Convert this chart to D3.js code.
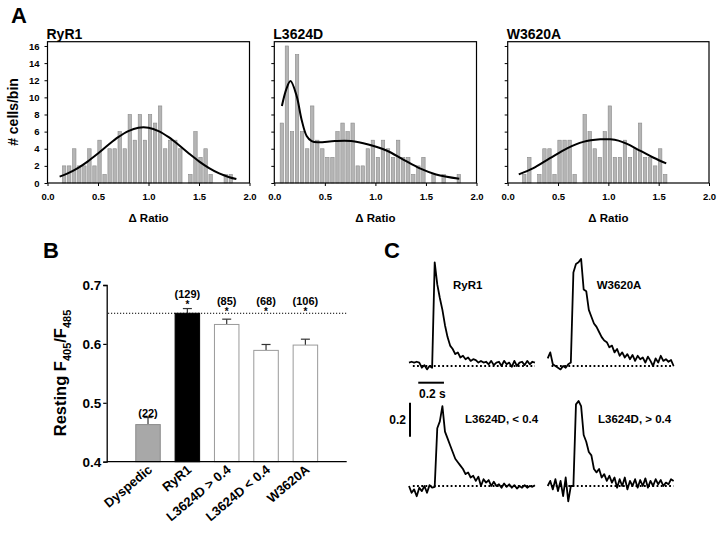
<!DOCTYPE html>
<html><head><meta charset="utf-8">
<script src="https://cdn.jsdelivr.net/npm/d3@7"></script>
<style>
body{margin:0;background:#fff}
text{font-family:"Liberation Sans",Arial,sans-serif;font-weight:bold;fill:#000}
</style>
</head><body>
<svg id="c" width="720" height="534"></svg>
<script>
// ---------------- DATA ----------------
const histTitles = ["RyR1", "L3624D", "W3620A"];
const histXTicks = [0.0, 0.5, 1.0, 1.5, 2.0];
const histYTicks = [0, 2, 4, 6, 8, 10, 12, 14, 16];

const ryr1Centers = [0.165,0.215,0.265,0.315,0.365,0.415,0.465,0.515,0.565,0.615,0.665,0.715,0.765,0.815,0.865,0.915,0.965,1.015,1.065,1.115,1.165,1.215,1.265,1.315,1.365,1.415,1.465,1.515,1.565,1.615,1.665,1.715,1.765,1.815];
const ryr1Counts = [2,2,4,2,2,4,2,5,1,4,4,6,4,8,5,8,5,8,7,9,4,5,5,4,0,1,6,3,4,1,0,0,1,1];
const ryr1FitX = [0.12,0.2,0.3,0.4,0.5,0.6,0.7,0.8,0.9,1.0,1.1,1.2,1.3,1.4,1.5,1.6,1.7,1.8,1.87];
const ryr1FitY = [0.75,1.12,1.74,2.53,3.45,4.43,5.35,6.06,6.45,6.45,6.06,5.35,4.43,3.45,2.53,1.74,1.12,0.68,0.46];

const l3624dCenters = [0.075,0.125,0.175,0.225,0.275,0.325,0.375,0.425,0.475,0.525,0.575,0.625,0.675,0.725,0.775,0.825,0.875,0.925,0.975,1.025,1.075,1.125,1.175,1.225,1.275,1.325,1.375,1.425,1.475,1.525,1.575,1.625,1.675,1.725,1.775,1.825];
const l3624dCounts = [7,16,6,15,6,4,9,5,4,3,3,6,7,6,7,2,2,4,5,3,5,4,3,5,3,3,1,2,3,0,1,0,1,0,0,1];
const l3624dFitX = [0.075,0.12,0.16,0.22,0.27,0.32,0.37,0.43,0.6,0.76,0.93,1.11,1.28,1.44,1.6,1.83];
const l3624dFitY = [9.0,11.0,11.9,10.2,7.4,5.5,4.9,4.75,4.9,4.9,4.5,3.8,2.7,1.7,1.0,0.5];

const w3620aCenters = [0.165,0.215,0.265,0.315,0.365,0.415,0.465,0.515,0.565,0.615,0.665,0.715,0.765,0.815,0.865,0.915,0.965,1.015,1.065,1.115,1.165,1.215,1.265,1.315,1.365,1.415,1.465,1.515,1.565];
const w3620aCounts = [1,3,0,1,4,4,1,5,5,5,1,0,8,6,4,3,6,9,3,3,5,3,4,7,3,3,2,4,1];
const w3620aFitX = [0.11,0.25,0.42,0.59,0.75,0.92,1.02,1.1,1.18,1.32,1.45,1.575];
const w3620aFitY = [1.0,1.7,2.9,4.05,4.8,5.1,5.1,4.95,4.6,3.75,2.95,2.3];

// Panel B
const bCategories = ["Dyspedic", "RyR1", "L3624D > 0.4", "L3624D < 0.4", "W3620A"];
const bMeans = [0.463, 0.652, 0.633, 0.589, 0.598];
const bSem = [0.012, 0.008, 0.009, 0.010, 0.010];
const bN = [22, 129, 85, 68, 106];
const bSignificant = [false, true, true, true, true];
const bYTicks = [0.4, 0.5, 0.6, 0.7];

// Panel C (ΔRatio traces, sampled every 0.02 s)
const traceTimes = [0,0.02,0.04,0.06,0.08,0.1,0.12,0.14,0.16,0.18,0.2,0.22,0.24,0.26,0.28,0.3,0.32,0.34,0.36,0.38,0.4,0.42,0.44,0.46,0.48,0.5,0.52,0.54,0.56,0.58,0.6,0.62,0.64,0.66,0.68,0.7,0.72,0.74,0.76,0.78,0.8,0.82,0.84,0.86,0.88,0.9,0.92,0.94,0.96,0.98];
const traceNames = ["RyR1", "W3620A", "L3624D, < 0.4", "L3624D, > 0.4"];
const traceRyR1 = [0.02,0.025,0.02,0.025,0.02,-0.01,0.005,-0.02,0.0,-0.01,0.61,0.48,0.40,0.33,0.24,0.17,0.12,0.10,0.07,0.08,0.05,0.06,0.04,0.05,0.03,0.04,0.035,0.02,0.03,0.02,0.025,0.01,0.03,0.005,0.02,0.025,0.0,0.03,0.01,0.02,-0.005,0.03,0.0,0.02,0.025,0.005,0.03,0.01,0.025,0.02];
const traceW3620A = [0.045,0.08,0.01,0.0,-0.01,-0.02,0.0,-0.01,0.01,0.02,0.55,0.60,0.61,0.63,0.45,0.44,0.33,0.29,0.25,0.23,0.20,0.17,0.15,0.14,0.11,0.12,0.08,0.10,0.06,0.08,0.05,0.07,0.04,0.065,0.03,0.06,0.04,0.05,0.02,0.055,0.03,0.0,0.045,0.02,0.06,0.03,0.04,0.025,0.035,0.0];
const traceL3624Dlow = [0.0,-0.04,-0.02,-0.06,-0.01,-0.03,0.0,-0.04,0.005,-0.01,-0.005,0.34,0.38,0.47,0.32,0.28,0.24,0.20,0.16,0.14,0.12,0.10,0.07,0.08,0.05,0.06,0.03,0.055,0.0,0.04,0.02,0.035,0.0,0.025,0.0,0.01,-0.01,0.015,-0.005,0.01,-0.01,0.005,-0.015,0.0,-0.01,0.005,-0.01,0.0,-0.005,0.005];
const traceL3624Dhigh = [0.0,0.03,-0.02,0.04,-0.03,0.03,-0.06,0.05,-0.09,0.0,0.0,0.48,0.50,0.47,0.30,0.26,0.20,0.18,0.10,0.08,0.10,0.05,0.07,0.03,0.06,0.02,0.05,-0.01,0.04,0.0,0.05,-0.02,0.03,0.0,0.04,-0.01,0.035,0.0,0.045,-0.01,0.03,0.0,0.04,0.01,0.035,0.0,0.02,0.01,0.04,0.03];
const scaleBarTime = 0.2;   // s
const scaleBarRatio = 0.2;  // ΔRatio

// ---------------- DRAW ----------------
const svg = d3.select("#c");

function panelLetter(t, x, y) {
  svg.append("text").attr("x", x).attr("y", y).style("font-size", "22px").text(t);
}
panelLetter("A", 11, 23);
panelLetter("B", 43, 258);
panelLetter("C", 384, 258);

// ---- Panel A ----
const histPanels = [
  {title: histTitles[0], centers: ryr1Centers, counts: ryr1Counts, fx: ryr1FitX, fy: ryr1FitY, x0: 47.5, x1: 249.5, labels: true},
  {title: histTitles[1], centers: l3624dCenters, counts: l3624dCounts, fx: l3624dFitX, fy: l3624dFitY, x0: 274.3, x1: 476.5, labels: false},
  {title: histTitles[2], centers: w3620aCenters, counts: w3620aCounts, fx: w3620aFitX, fy: w3620aFitY, x0: 507.7, x1: 709, labels: false}
];
const hTop = 41.7, hBottom = 183;
histPanels.forEach(p => {
  const x = d3.scaleLinear().domain([0, 2]).range([p.x0, p.x1]);
  const y = d3.scaleLinear().domain([0, 16.5]).range([hBottom, hTop]);
  const g = svg.append("g");
  const bins = p.counts.map((c, i) => ({c, x: p.centers[i]})).filter(d => d.c > 0);
  const bw = x(0.034) - x(0);
  g.selectAll("rect.bar").data(bins).enter().append("rect")
    .attr("x", d => x(d.x) - bw / 2).attr("width", bw)
    .attr("y", d => y(d.c)).attr("height", d => y(0) - y(d.c))
    .attr("fill", "#b5b5b5").attr("stroke", "#8a8a8a").attr("stroke-width", 0.6);
  const line = d3.line().x((d, i) => x(p.fx[i])).y(d => y(d)).curve(d3.curveCatmullRom);
  g.append("path").attr("d", line(p.fy)).attr("fill", "none").attr("stroke", "#000").attr("stroke-width", 2);
  g.append("rect").attr("x", p.x0).attr("y", hTop).attr("width", p.x1 - p.x0).attr("height", hBottom - hTop)
    .attr("fill", "none").attr("stroke", "#000").attr("stroke-width", 1.2);
  const ya = g.append("g").attr("transform", `translate(${p.x0},0)`)
    .call(d3.axisLeft(y).tickValues(histYTicks).tickSize(3).tickPadding(5)
      .tickFormat(p.labels ? d3.format("d") : () => ""));
  ya.select(".domain").remove();
  ya.selectAll("text").style("font-size", "9.5px").style("font-family", '"Liberation Sans",Arial,sans-serif');
  ya.selectAll("line").attr("stroke-width", 1);
  const xa = g.append("g").attr("transform", `translate(0,${hBottom})`)
    .call(d3.axisBottom(x).tickValues(histXTicks).tickSize(3).tickPadding(7).tickFormat(d3.format(".1f")));
  xa.select(".domain").remove();
  xa.selectAll("text").style("font-size", "9.5px").style("font-family", '"Liberation Sans",Arial,sans-serif');
  xa.selectAll("line").attr("stroke-width", 1);
  g.append("text").attr("x", p.x0 - 1).attr("y", 38.5).style("font-size", "14px").text(p.title);
  g.append("text").attr("x", (p.x0 + p.x1) / 2).attr("y", 221.5).attr("text-anchor", "middle")
    .style("font-size", "11.5px").text("Δ Ratio");
});
svg.append("text").attr("transform", "translate(18,112) rotate(-90)").attr("text-anchor", "middle")
  .style("font-size", "14px").text("# cells/bin");

// ---- Panel B ----
const bx = d3.scalePoint().domain(bCategories).range([106.7, 346.7]).padding(1.05);
const by = d3.scaleLinear().domain([0.4, 0.7]).range([461.7, 285]);
const bFill = ["#a8a8a8", "#000000", "#ffffff", "#ffffff", "#ffffff"];
const bStroke = ["#8c8c8c", "#000000", "#9a9a9a", "#9a9a9a", "#9a9a9a"];
const barW = 24.5;
const gB = svg.append("g");
gB.append("line").attr("x1", 108).attr("x2", 346.7).attr("y1", by(bMeans[1])).attr("y2", by(bMeans[1]))
  .attr("stroke", "#000").attr("stroke-width", 1).attr("stroke-dasharray", "1.2,1.8");
bCategories.forEach((c, i) => {
  const cx = bx(c);
  const top = by(bMeans[i] + bSem[i]);
  gB.append("line").attr("x1", cx).attr("x2", cx).attr("y1", by(bMeans[i])).attr("y2", top)
    .attr("stroke", "#333").attr("stroke-width", 1.2);
  gB.append("line").attr("x1", cx - 4.5).attr("x2", cx + 4.5).attr("y1", top).attr("y2", top)
    .attr("stroke", "#333").attr("stroke-width", 1.2);
  gB.append("rect").attr("x", cx - barW / 2).attr("width", barW)
    .attr("y", by(bMeans[i])).attr("height", by(0.4) - by(bMeans[i]))
    .attr("fill", bFill[i]).attr("stroke", bStroke[i]).attr("stroke-width", 1);
  let labelY;
  if (bSignificant[i]) {
    const sy = Math.min(top - 6, 310);
    gB.append("text").attr("x", cx).attr("y", sy + 5).attr("text-anchor", "middle").style("font-size", "10px").text("*");
    labelY = sy - 9;
  } else {
    labelY = top - 5;
  }
  gB.append("text").attr("x", cx).attr("y", labelY + 4).attr("text-anchor", "middle").style("font-size", "11px").text(`(${bN[i]})`);
  gB.append("text").attr("transform", `translate(${cx + 5},${471}) rotate(-40)`).attr("text-anchor", "end")
    .style("font-size", "13px").text(c);
});
const bya = gB.append("g").attr("transform", "translate(106.7,0)")
  .call(d3.axisLeft(by).tickValues(bYTicks).tickSize(3.5).tickPadding(2).tickFormat(d3.format(".1f")));
bya.selectAll("text").style("font-size", "13.5px").style("font-family", '"Liberation Sans",Arial,sans-serif');
bya.select(".domain").attr("stroke-width", 1.3);
bya.selectAll("line").attr("stroke-width", 1.2);
gB.append("line").attr("x1", 106.7).attr("x2", 346.7).attr("y1", by(0.4)).attr("y2", by(0.4))
  .attr("stroke", "#000").attr("stroke-width", 1.3);
const yl = gB.append("text").attr("transform", "translate(66,373) rotate(-90)").attr("text-anchor", "middle")
  .style("font-size", "16.5px");
yl.append("tspan").text("Resting F");
yl.append("tspan").attr("dy", 5).style("font-size", "11px").text("405");
yl.append("tspan").attr("dy", -5).text("/F");
yl.append("tspan").attr("dy", 5).style("font-size", "11px").text("485");

// ---- Panel C ----
const traceDefs = [
  {name: traceNames[0], vals: traceRyR1, x0: 409, base: 366, lx: 453, ly: 289},
  {name: traceNames[1], vals: traceW3620A, x0: 547.7, base: 366, lx: 596.7, ly: 289},
  {name: traceNames[2], vals: traceL3624Dlow, x0: 409, base: 486, lx: 465, ly: 423},
  {name: traceNames[3], vals: traceL3624Dhigh, x0: 547.7, base: 486, lx: 598, ly: 423}
];
const pxPerSec = 128.5, pxPerUnit = 170;
const scales = traceDefs.map(t => ({
  x: d3.scaleLinear().domain([0, 1]).range([t.x0, t.x0 + pxPerSec]),
  y: d3.scaleLinear().domain([0, 1]).range([t.base, t.base - pxPerUnit])
}));
traceDefs.forEach((t, k) => {
  const {x, y} = scales[k];
  svg.append("line").attr("x1", x(0.03)).attr("x2", x(0.98)).attr("y1", y(0)).attr("y2", y(0))
    .attr("stroke", "#000").attr("stroke-width", 1.8).attr("stroke-dasharray", "1.8,2.4");
  const line = d3.line().x((d, i) => x(traceTimes[i])).y(d => y(d));
  svg.append("path").attr("d", line(t.vals)).attr("fill", "none").attr("stroke", "#000")
    .attr("stroke-width", 1.8).attr("stroke-linejoin", "round");
  svg.append("text").attr("x", t.lx).attr("y", t.ly).style("font-size", "11.5px").text(t.name);
});
// scale bars
{
  const {x, y} = scales[0];
  svg.append("line").attr("x1", x(0.072)).attr("x2", x(0.072 + scaleBarTime)).attr("y1", 382.7).attr("y2", 382.7)
    .attr("stroke", "#000").attr("stroke-width", 2);
  svg.append("text").attr("x", x(0.078)).attr("y", 397.5).style("font-size", "12px").text(scaleBarTime + " s");
  const s2 = scales[2];
  svg.append("line").attr("x1", 410).attr("x2", 410).attr("y1", s2.y(0.29)).attr("y2", s2.y(0.29 + scaleBarRatio))
    .attr("stroke", "#000").attr("stroke-width", 2);
  svg.append("text").attr("x", 406).attr("y", 423.5).attr("text-anchor", "end").style("font-size", "12px").text(String(scaleBarRatio));
}
</script>
</body></html>
